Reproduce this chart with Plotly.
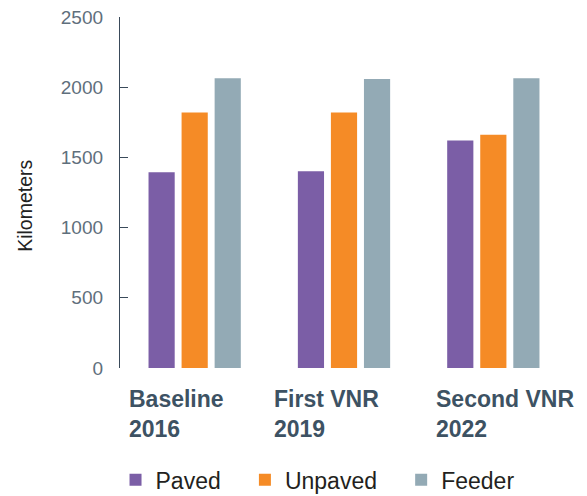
import plotly.graph_objects as go

categories = ["Baseline<br>2016", "First VNR<br>2019", "Second VNR<br>2022"]
series_names = ["Paved", "Unpaved", "Feeder"]
paved = [1395, 1401, 1621]
unpaved = [1820, 1820, 1662]
feeder = [2064, 2058, 2064]
y_ticks = [0, 500, 1000, 1500, 2000, 2500]

colors = ["#7B5EA6", "#F58B26", "#93AAB5"]
values = [paved, unpaved, feeder]

fig = go.Figure()
x_idx = list(range(len(categories)))
for name, vals, col in zip(series_names, values, colors):
    fig.add_trace(go.Bar(
        x=x_idx, y=vals, name=name + "\u00a0\u00a0\u00a0",
        marker=dict(color=col, line=dict(width=0)),
    ))

label_shift = [-67.5, -72, -59]
for i, (cat, sh) in enumerate(zip(categories, label_shift)):
    fig.add_annotation(
        x=i, y=0, xref="x", yref="paper", yanchor="top", xanchor="left",
        xshift=sh, yshift=-16, text="<b>" + cat + "</b>", showarrow=False,
        align="left", font=dict(family="Liberation Sans, Arial", size=23, color="#3D5263"),
    )

fig.add_annotation(
    x=-0.212, y=0.462, xref="paper", yref="paper", text="Kilometers",
    textangle=-90, showarrow=False, xanchor="center", yanchor="middle",
    font=dict(family="Liberation Sans, Arial", size=19.5, color="#222222"),
)

fig.update_layout(
    width=587, height=496,
    margin=dict(l=120, r=19, t=17, b=128, autoexpand=False),
    paper_bgcolor="white", plot_bgcolor="white",
    barmode="group", bargap=0.336, bargroupgap=0.208,
    showlegend=True,
    legend=dict(orientation="h", x=-0.01, y=-0.257, xanchor="left", yanchor="top",
                font=dict(family="Liberation Sans, Arial", size=23, color="#231F20"),
                itemwidth=30, traceorder="normal"),
    xaxis=dict(range=[-0.5, 2.5], showticklabels=False, showline=False, ticks="",
               showgrid=False, zeroline=False, fixedrange=True),
    yaxis=dict(range=[0, 2500], tickvals=y_ticks, ticks="inside", ticklen=8,
               tickcolor="#3A4A5A", tickwidth=1.3, showline=True, linecolor="#3A4A5A",
               linewidth=1.3, showgrid=False, zeroline=False, ticklabelstandoff=12,
               tickfont=dict(family="Liberation Sans, Arial", size=19, color="#5F6F7C")),
)

fig.write_html("out.html", config={"displayModeBar": False},
               post_script="document.body.style.margin='0';")
